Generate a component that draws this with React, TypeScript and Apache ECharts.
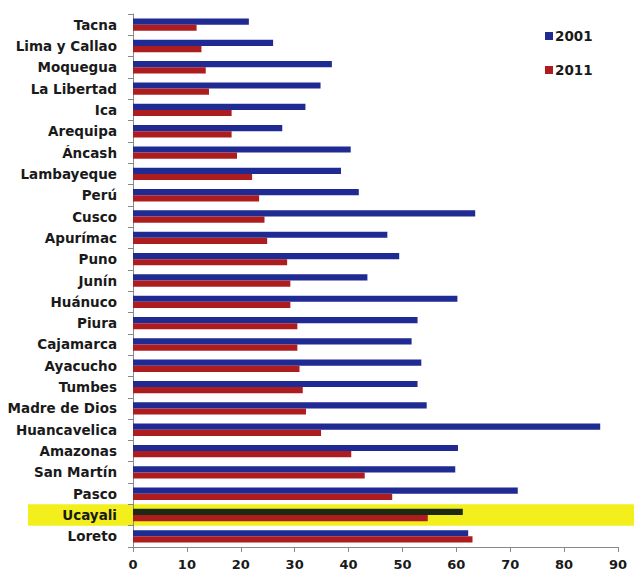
import React, { useEffect, useRef } from "react";
import * as echarts from "echarts";

const categories = [
  "Tacna", "Lima y Callao", "Moquegua", "La Libertad", "Ica", "Arequipa", "Áncash",
  "Lambayeque", "Perú", "Cusco", "Apurímac", "Puno", "Junín", "Huánuco", "Piura",
  "Cajamarca", "Ayacucho", "Tumbes", "Madre de Dios", "Huancavelica", "Amazonas",
  "San Martín", "Pasco", "Ucayali", "Loreto",
];
const values2001 = [
  21.5, 26.0, 36.9, 34.8, 32.0, 27.7, 40.4, 38.6, 41.9, 63.5, 47.2, 49.4, 43.5, 60.2,
  52.8, 51.7, 53.5, 52.8, 54.5, 86.7, 60.3, 59.8, 71.4, 61.2, 62.2,
];
const values2011 = [
  11.8, 12.7, 13.5, 14.1, 18.3, 18.3, 19.3, 22.1, 23.4, 24.4, 24.9, 28.6, 29.2, 29.2,
  30.5, 30.5, 30.9, 31.5, 32.1, 34.9, 40.5, 43.0, 48.1, 54.7, 63.0,
];
const seriesNames = ["2001", "2011"];
const xTicks = { min: 0, max: 90, interval: 10 };
const highlighted = "Ucayali";

const BLUE = "#1f2a92";
const RED = "#ad1c1f";
const DARK = "#1c2a12";
const YELLOW = "#f3ef1c";

export default function App() {
  const ref = useRef<HTMLDivElement>(null);
  useEffect(() => {
    if (!ref.current) return;
    const chart = echarts.init(ref.current, undefined, { renderer: "svg" });
    const font = "DejaVu Sans";
    chart.setOption({
      animation: false,
      backgroundColor: "#ffffff",
      grid: { left: 133, right: 16, top: 14, bottom: 26, containLabel: false },
      legend: {
        orient: "vertical",
        left: 540,
        top: 24,
        itemWidth: 8,
        itemHeight: 8,
        itemGap: 20,
        icon: "rect",
        data: seriesNames,
        textStyle: { fontFamily: font, fontWeight: "bold", fontSize: 13.5, color: "#1a1a1a", padding: [0, 0, 0, -3] },
      },
      xAxis: {
        type: "value",
        min: xTicks.min,
        max: xTicks.max,
        interval: xTicks.interval,
        axisLine: { show: true, lineStyle: { color: "#888", width: 1 } },
        axisTick: { show: true, length: 5, lineStyle: { color: "#888" } },
        splitLine: { show: false },
        axisLabel: { fontFamily: font, fontWeight: "bold", fontSize: 13, color: "#1a1a1a", margin: 11 },
      },
      yAxis: {
        type: "category",
        inverse: true,
        data: categories,
        axisLine: { show: true, lineStyle: { color: "#888", width: 1 } },
        axisTick: { show: true, length: 5, lineStyle: { color: "#888" } },
        axisLabel: { fontFamily: font, fontWeight: "bold", fontSize: 13.5, color: "#1a1a1a", margin: 16 },
      },
      series: [
        {
          name: seriesNames[0],
          type: "bar",
          itemStyle: { color: BLUE },
          barGap: "0%",
          barCategoryGap: "42%",
          data: values2001.map((v, i) =>
            categories[i] === highlighted ? { value: v, itemStyle: { color: DARK } } : v
          ),
        },
        {
          name: seriesNames[1],
          type: "bar",
          itemStyle: { color: RED },
          barGap: "0%",
          barCategoryGap: "42%",
          data: values2011,
        },
      ],
    });
    const idx = categories.indexOf(highlighted);
    const c = chart.convertToPixel({ yAxisIndex: 0 }, categories[idx]) as number;
    const next = chart.convertToPixel({ yAxisIndex: 0 }, categories[idx + 1]) as number;
    const band = Math.abs(next - c);
    chart.setOption({
      graphic: [
        {
          type: "rect",
          z: -10,
          silent: true,
          shape: { x: 28, y: c - band / 2, width: 634 - 28, height: band },
          style: { fill: YELLOW },
        },
      ],
    });
    return () => chart.dispose();
  }, []);
  return (
    <div
      ref={ref}
      style={{ position: "fixed", left: 0, top: 0, width: 634, height: 573 }}
    />
  );
}
